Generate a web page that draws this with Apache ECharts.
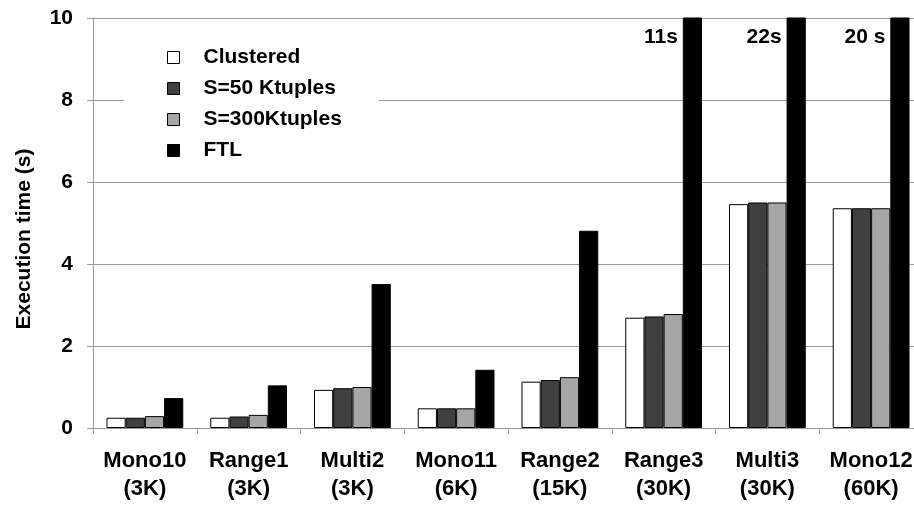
<!DOCTYPE html>
<html>
<head>
<meta charset="utf-8">
<script src="https://cdn.jsdelivr.net/npm/echarts@6/dist/echarts.min.js"></script>
<style>
  html, body { margin: 0; padding: 0; background: #fff; }
  #chart { width: 914px; height: 507px; }
</style>
</head>
<body>
<div id="chart"></div>
<script>
// queries, with their result size
const categories = ['Mono10\n(3K)', 'Range1\n(3K)', 'Multi2\n(3K)', 'Mono11\n(6K)', 'Range2\n(15K)', 'Range3\n(30K)', 'Multi3\n(30K)', 'Mono12\n(60K)']

// execution time in seconds
const clustered = [0.25, 0.25, 0.93, 0.48, 1.13, 2.69, 5.46, 5.36]
const s50 = [0.25, 0.28, 0.97, 0.48, 1.17, 2.72, 5.50, 5.36]
const s300 = [0.29, 0.32, 1.00, 0.48, 1.24, 2.78, 5.50, 5.36]
const ftl = [0.73, 1.04, 3.51, 1.42, 4.81, 11, 22, 20]
// bars that go off the scale get their real time written next to them
const ftlNotes = ['', '', '', '', '', '11s', '22s', '20 s']

const yTicks = [0, 2, 4, 6, 8, 10]

const FONT = 'Liberation Sans, Arial, sans-serif'
const axisGray = '#999999'

const chart = echarts.init(document.getElementById('chart'))

function barSeries(name, data, color) {
  return {
    name: name,
    type: 'bar',
    data: data,
    clip: true,
    barGap: '0%',
    barCategoryGap: '26%',
    itemStyle: {
      color: color,
      borderColor: '#000',
      borderWidth: 1
    }
  }
}

const ftlSeries = barSeries('FTL', ftl, '#000000')
ftlSeries.label = {
  show: true,
  position: [-5, 20],
  align: 'right',
  verticalAlign: 'middle',
  formatter: p => ftlNotes[p.dataIndex],
  color: '#000',
  fontFamily: FONT,
  fontWeight: 'bold',
  fontSize: 21
}

chart.setOption({
  animation: false,
  textStyle: { fontFamily: FONT },
  // plot runs a little past the right edge of the picture, like the original
  grid: {
    left: 93,
    width: 830,
    top: 18,
    bottom: 79,
    outerBoundsMode: 'none'
  },
  legend: {
    orient: 'vertical',
    left: 124,
    top: 37,
    padding: [10, 37, 10, 43],
    backgroundColor: '#fff',
    itemWidth: 12,
    itemHeight: 12,
    itemGap: 10,
    icon: 'rect',
    itemStyle: { borderColor: '#000', borderWidth: 1 },
    textStyle: {
      color: '#000',
      fontFamily: FONT,
      fontWeight: 'bold',
      fontSize: 21,
      lineHeight: 21,
      padding: [0, 0, 0, 19]
    },
    data: ['Clustered', 'S=50 Ktuples', 'S=300Ktuples', 'FTL']
  },
  xAxis: {
    type: 'category',
    data: categories,
    axisLine: { lineStyle: { color: axisGray, width: 1 } },
    axisTick: { show: true, length: 6, lineStyle: { color: axisGray } },
    axisLabel: {
      color: '#000',
      fontFamily: FONT,
      fontWeight: 'bold',
      fontSize: 22,
      lineHeight: 28,
      margin: 19,
      interval: 0
    }
  },
  yAxis: {
    type: 'value',
    min: yTicks[0],
    max: yTicks[yTicks.length - 1],
    interval: 2,
    name: 'Execution time (s)',
    nameLocation: 'middle',
    nameRotate: 90,
    nameGap: 58,
    nameTextStyle: {
      color: '#000',
      fontFamily: FONT,
      fontWeight: 'bold',
      fontSize: 21,
      padding: [0, 32, 0, 0]
    },
    axisLine: { show: true, lineStyle: { color: axisGray, width: 1 } },
    axisTick: { show: true, length: 6, lineStyle: { color: axisGray } },
    splitLine: { show: true, lineStyle: { color: axisGray, width: 1 } },
    axisLabel: {
      color: '#000',
      fontFamily: FONT,
      fontWeight: 'bold',
      fontSize: 21,
      margin: 20
    }
  },
  series: [
    barSeries('Clustered', clustered, '#ffffff'),
    barSeries('S=50 Ktuples', s50, '#404040'),
    barSeries('S=300Ktuples', s300, '#a6a6a6'),
    ftlSeries
  ]
})
</script>
</body>
</html>
